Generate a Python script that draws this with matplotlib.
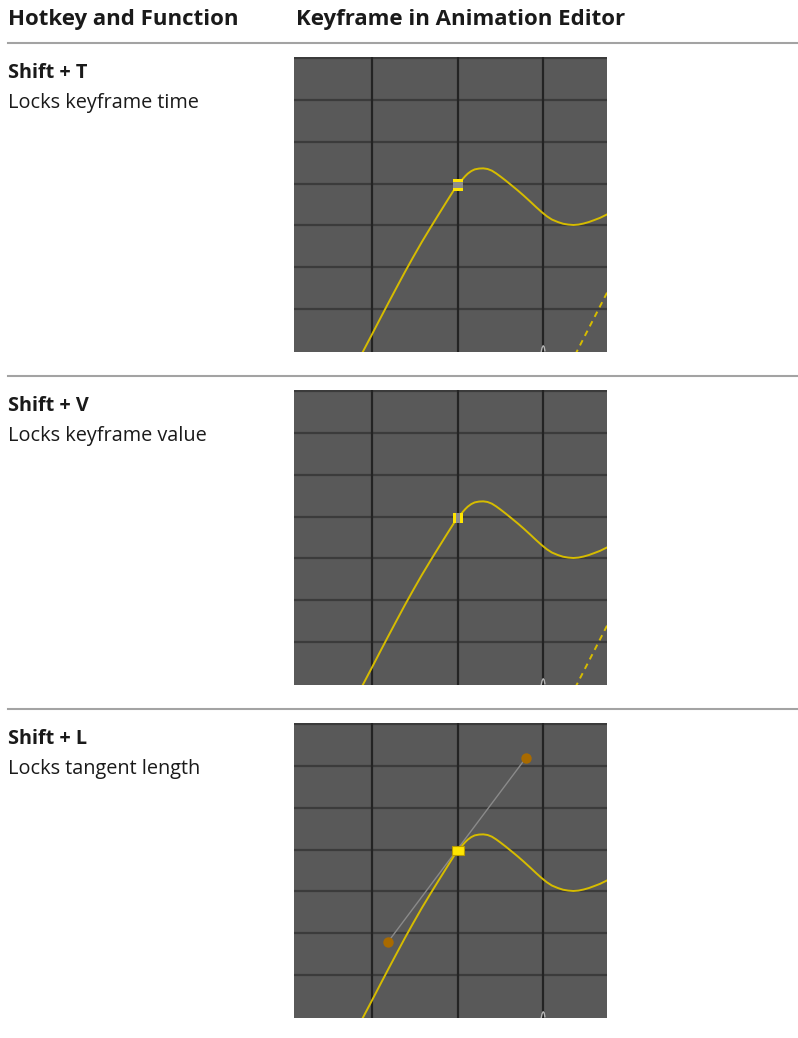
import numpy as np
import matplotlib.pyplot as plt
from matplotlib.patches import Rectangle

plt.rcParams['font.family'] = ['Open Sans', 'DejaVu Sans']

# header and row texts
headers = ['Hotkey and Function', 'Keyframe in Animation Editor']
hotkeys = ['Shift + T', 'Shift + V', 'Shift + L']
functions = ['Locks keyframe time', 'Locks keyframe value', 'Locks tangent length']
modes = ['time', 'value', 'length']

# animation curve, in grid units
curve_x = [-0.11, 0.0, 0.1, 0.193, 0.29, 0.388, 0.48, 0.583, 0.68, 0.776, 0.87, 0.959, 1.0,
           1.03, 1.06, 1.09, 1.12, 1.16, 1.20, 1.25, 1.30, 1.35, 1.40, 1.45, 1.50,
           1.56, 1.62, 1.70, 1.77, 1.85, 1.92, 1.98, 2.04, 2.10, 2.17, 2.23, 2.29,
           2.35, 2.41, 2.47, 2.53, 2.59, 2.66, 2.74, 2.80]
curve_y = [-0.05, 0.38, 0.775, 1.14, 1.515, 1.89, 2.23, 2.60, 2.93, 3.25, 3.56, 3.85, 3.96,
           4.03, 4.11, 4.18, 4.24, 4.30, 4.34, 4.36, 4.365, 4.35, 4.31, 4.245, 4.17,
           4.075, 3.975, 3.84, 3.715, 3.565, 3.43, 3.32, 3.22, 3.14, 3.08, 3.04, 3.02,
           3.01, 3.02, 3.045, 3.08, 3.125, 3.18, 3.26, 3.32]
key_x, key_y = 1.0, 3.97

# second (dashed) curve entering at bottom right
dash_x = [2.37, 2.76]
dash_y = [-0.1, 1.46]

# tangent handles of the third example
handle_x = [0.186, 1.795]
handle_y = [1.78, 6.19]

# small grey glyph at the bottom of the x=2 line
mark_x = [1.975, 1.985, 1.998, 2.01, 2.018]
mark_y = [-0.03, 0.07, 0.12, 0.09, 0.0]

W, H = 798, 1038
fig = plt.figure(figsize=(W / 100, H / 100), dpi=100)
fig.patch.set_facecolor('white')

def fx(x):
    return x / W

def fy(y):
    return 1 - y / H

# header
fig.text(fx(8), fy(20), headers[0], fontsize=16, fontweight='bold', va='center', color='#1a1a1a')
fig.text(fx(296), fy(20), headers[1], fontsize=16, fontweight='bold', va='center', color='#1a1a1a')

seps = [43, 376, 709]
for y in seps:
    fig.add_artist(plt.Line2D([fx(8), 1], [fy(y), fy(y)], color='#a3a3a3', lw=1.5,
                              transform=fig.transFigure))

panel_tops = [57, 390, 723]
px_x, px_y = 85.8, 41.8  # pixels per grid unit

yellow = '#d6bc00'

for i, top in enumerate(panel_tops):
    fig.text(fx(8), fy(top + 16), hotkeys[i], fontsize=14.3, fontweight='bold',
             va='center', color='#1a1a1a')
    fig.text(fx(8), fy(top + 46), functions[i], fontsize=14.3, va='center', color='#1a1a1a')

    ax = fig.add_axes([fx(294), fy(top + 295), 313 / W, 295 / H])
    ax.set_facecolor('#595959')
    ax.set_xlim(-0.906, 2.742)
    ax.set_ylim(-0.03, 7.03)
    for s in ax.spines.values():
        s.set_visible(False)
    ax.set_xticks([])
    ax.set_yticks([])

    for gy in range(1, 8):
        ax.axhline(gy, color='#3b3b3b', lw=1.6, zorder=1)
    for gx in range(0, 3):
        ax.axvline(gx, color='#232323', lw=1.6, zorder=1)

    ax.plot(curve_x, curve_y, color=yellow, lw=1.4, zorder=3,
            solid_capstyle='round', solid_joinstyle='round')
    ax.plot(mark_x, mark_y, color='#b5b5b5', lw=1.0, zorder=3)

    mode = modes[i]
    if mode != 'length':
        ax.plot(dash_x, dash_y, color=yellow, lw=1.4, zorder=3, dashes=(3, 2.5))

    w = 10 / px_x
    h = 12 / px_y
    x0 = key_x - w / 2
    y0 = key_y - h / 2
    if mode == 'time':
        ax.add_patch(Rectangle((x0, y0), w, h, facecolor='#8c8c8c', edgecolor='none', zorder=4))
        bh = 3 / px_y
        ax.add_patch(Rectangle((x0, y0 + h - bh), w, bh, facecolor='#ffe500', edgecolor='none', zorder=5))
        ax.add_patch(Rectangle((x0, y0), w, bh, facecolor='#ffe500', edgecolor='none', zorder=5))
    elif mode == 'value':
        h = 10 / px_y
        y0 = key_y - h / 2
        ax.add_patch(Rectangle((x0, y0), w, h, facecolor='#8c8c8c', edgecolor='none', zorder=4))
        bw = 3 / px_x
        ax.add_patch(Rectangle((x0, y0), bw, h, facecolor='#ffe500', edgecolor='none', zorder=5))
        ax.add_patch(Rectangle((x0 + w - bw, y0), bw, h, facecolor='#ffe500', edgecolor='none', zorder=5))
    else:
        ax.plot(handle_x, handle_y, color='#8a8a8a', lw=1.0, zorder=2)
        ax.plot(handle_x, handle_y, 'o', color='#a86a00', ms=7.5, mec='none', zorder=4)
        w = 12 / px_x
        h = 9 / px_y
        ax.add_patch(Rectangle((key_x - w / 2, key_y - h / 2), w, h, facecolor='#ffe600',
                               edgecolor='#b89c00', lw=0.8, zorder=5))

fig.savefig('out.png', dpi=100, facecolor='white')
